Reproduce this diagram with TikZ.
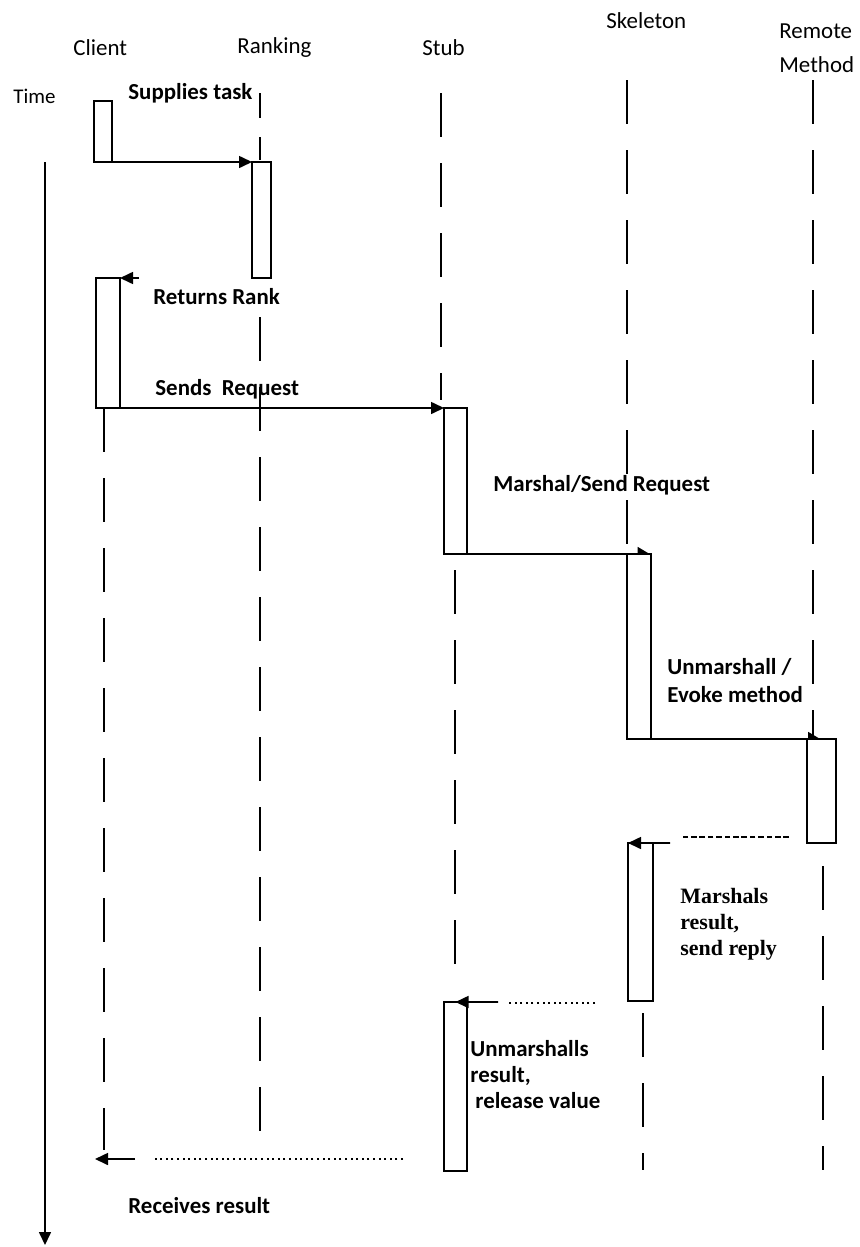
\documentclass[tikz,border=0pt]{standalone}
\usepackage{fontspec}
\setmainfont{Carlito}
\newfontfamily\tnr{Liberation Serif}
\usetikzlibrary{arrows.meta}
\tikzset{
  act/.style={draw,fill=white,line width=.8pt,inner sep=0pt,outer sep=0pt},
  life/.style={line width=.8pt,dash pattern=on 22bp off 13bp},
  msg/.style={line width=.8pt,-{Triangle[length=6.5bp,width=6bp]}},
  half/.style={line width=.8pt,-{Triangle[harpoon,length=6bp,width=7bp]}},
  fine/.style={line width=.6pt,dash pattern=on 2.8bp off 1.4bp},
  dots/.style={line width=.6pt,dash pattern=on 1bp off 1.8bp},
  lbl/.style={anchor=base west,inner sep=0pt,align=left,font=\fontsize{11.5}{13.5}\selectfont\bfseries},
  head/.style={anchor=base west,inner sep=0pt,align=left,font=\fontsize{11.5}{17}\selectfont},
}
\begin{document}
\begin{tikzpicture}[scale=.5]
\useasboundingbox (0bp,0bp) rectangle (860bp,-1247bp);
\node (tHead) at (13bp,-103bp)[head,font=\fontsize{10.5}{12}\selectfont] {Time};
\node (cHead) at (73bp,-55bp)[head] {Client};
\node (rHead) at (237bp,-53bp)[head] {Ranking};
\node (sHead) at (422bp,-55bp)[head] {Stub};
\node (kHead) at (606bp,-28bp)[head] {Skeleton};
\node (mHead) at (779bp,-72bp)[head] {Remote\\Method};
\coordinate (t0) at (45bp,-162bp);
\coordinate (t1) at (45bp,-1245bp);
\draw [msg] (t0) -- (t1);
\draw [life] (104bp,-408bp) -- (104bp,-1150bp);
\draw [life,dash pattern=on 12.5bp off 9.5bp] (260bp,-93bp) -- (260bp,-160bp);
\draw [life] (260bp,-317bp) -- (260bp,-1148bp);
\draw [life] (441bp,-93bp) -- (441bp,-400bp);
\draw [life] (455bp,-570bp) -- (455bp,-968bp);
\draw [life] (627bp,-80bp) -- (627bp,-554bp);
\draw [life] (643bp,-1013bp) -- (643bp,-1170bp);
\draw [life] (813bp,-80bp) -- (813bp,-739bp);
\draw [life] (823bp,-866bp) -- (823bp,-1170bp);
\node (C1) at (103bp,-131.5bp)[act,minimum width=9bp,minimum height=30.5bp] {};
\node (R1) at (261.5bp,-220bp)[act,minimum width=9.5bp,minimum height=58bp] {};
\node (C2) at (108bp,-343bp)[act,minimum width=12bp,minimum height=65bp] {};
\node (S1) at (455.5bp,-481bp)[act,minimum width=11.5bp,minimum height=73bp] {};
\node (K1) at (639bp,-646.5bp)[act,minimum width=12bp,minimum height=92.5bp] {};
\node (M1) at (821.5bp,-791bp)[act,minimum width=14.5bp,minimum height=52bp] {};
\node (K2) at (640.5bp,-922bp)[act,minimum width=12.5bp,minimum height=79bp] {};
\node (S2) at (455.5bp,-1086.5bp)[act,minimum width=11.5bp,minimum height=84.5bp] {};
\draw [msg] (C1.south east) to (R1.north west);
\coordinate (rRet) at (139bp,-278bp);
\draw [msg] (rRet) to (C2.north east);
\draw [msg] (C2.south east) to (S1.north west);
\draw [half] (S1.south east) to (K1.north east);
\draw [half] (K1.south east) to (M1.north);
\coordinate (mA) at (789bp,-837bp);
\coordinate (mB) at (681bp,-837bp);
\coordinate (mRet) at (670bp,-843bp);
\draw [fine] (mA) to (mB);
\draw [msg] (mRet) to (K2.north west);
\coordinate (kA) at (595bp,-1003bp);
\coordinate (kB) at (507bp,-1003bp);
\coordinate (kRet) at (498bp,-1002bp);
\draw [dots] (kA) to (kB);
\draw [msg] (kRet) to (S2.north);
\coordinate (sA) at (403bp,-1159bp);
\coordinate (sB) at (153bp,-1159bp);
\coordinate (sRet) at (135bp,-1159bp);
\coordinate (cEnd) at (95bp,-1159bp);
\draw [dots] (sA) to (sB);
\draw [msg] (sRet) to (cEnd);
\node (L1) at (128bp,-99bp)[lbl] {Supplies task};
\node (L2) at (153bp,-304bp)[lbl] {Returns Rank};
\node (L3) at (155bp,-395bp)[lbl] {Sends\ \ Request};
\node (L4) at (493bp,-491bp)[lbl] {Marshal/Send Request};
\node (L5) at (667bp,-702bp)[lbl,font=\fontsize{11.5}{14}\selectfont\bfseries] {Unmarshall /\\Evoke method};
\node (L6) at (680bp,-955bp)[lbl,font=\fontsize{11}{13}\selectfont\tnr\bfseries] {Marshals\\result,\\send reply};
\node (L7) at (470bp,-1108bp)[lbl,font=\fontsize{11.5}{13}\selectfont\bfseries] {Unmarshalls\\result,\\\hspace*{2.5bp}release value};
\node (L8) at (128bp,-1213bp)[lbl] {Receives result};
\end{tikzpicture}
\end{document}
